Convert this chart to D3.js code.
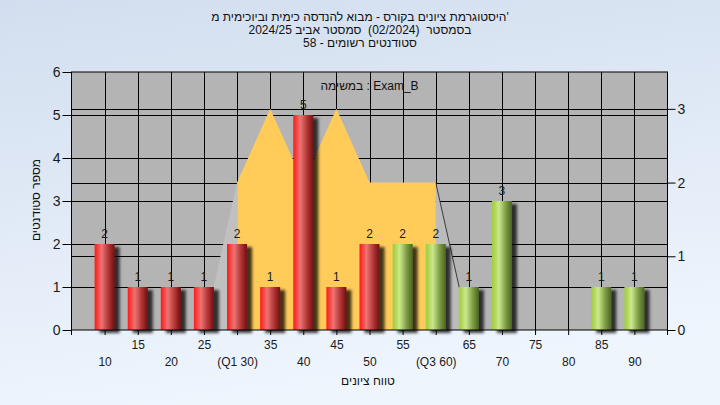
<!DOCTYPE html>
<html><head><meta charset="utf-8">
<script src="https://cdn.jsdelivr.net/npm/d3@7"></script>
<style>
html,body{margin:0;padding:0;}
svg{display:block;font-family:"Liberation Sans",Arial,sans-serif;}
text{white-space:pre;}
</style></head>
<body>
<svg id="c" width="720" height="405"></svg>
<script>
// ---- data ----
const categories = [10,15,20,25,30,35,40,45,50,55,60,65,70,75,80,85,90];
const counts     = [2,1,1,1,2,1,5,1,2,2,2,1,3,0,0,1,1];
const tickLabels = ["10","15","20","25","(Q1 30)","35","40","45","50","55","(Q3 60)","65","70","75","80","85","90"];
const areaX      = [25,30,35,40,45,50,55,60,65];
const areaValues = [0,2,3,2,3,2,2,2,0];
const leftTicks  = [0,1,2,3,4,5,6];
const rightTicks = [0,1,2,3];
const titleLines = ["היסטוגרמת ציונים בקורס - מבוא להנדסה כימית וביוכימית מ'",
                    "בסמסטר  (02/2024)  סמסטר אביב 2024/25",
                    "סטודנטים רשומים - 58"];
const legendText = "במשימה : Exam_B";
const yTitle = "מספר סטודנטים";
const xTitle = "טווח ציונים";
const q1 = 30, q3 = 60, passFrom = 55;

const svg = d3.select("#c");
const L = 71.5, R = 667.5, T = 72, B = 330;
const x = d3.scaleLinear().domain([5,95]).range([L,R]);
const yL = d3.scaleLinear().domain([0,6]).range([B,T]);
const yR = d3.scaleLinear().domain([0,3.5]).range([B,T]);

const defs = svg.append("defs");
const bg = defs.append("linearGradient").attr("id","bg").attr("x1",0).attr("y1",0).attr("x2",0.25).attr("y2",1);
bg.append("stop").attr("offset",0).attr("stop-color","#d2deef");
bg.append("stop").attr("offset",1).attr("stop-color","#eef5fd");
function grad(id, stops){
  const g = defs.append("linearGradient").attr("id",id).attr("x1",0).attr("x2",1).attr("y1",0).attr("y2",0);
  stops.forEach(s=>g.append("stop").attr("offset",s[0]).attr("stop-color",s[1]));
}
grad("red",[[0,"#ff1a1a"],[0.12,"#f83838"],[0.35,"#ec7474"],[0.7,"#b03434"],[1,"#6e1010"]]);
grad("green",[[0,"#a2cd42"],[0.12,"#acd452"],[0.35,"#cbe88e"],[0.7,"#7d9c44"],[1,"#4a6421"]]);
const f = defs.append("filter").attr("id","sh").attr("x","-20%").attr("y","-20%").attr("width","160%").attr("height","140%");
f.append("feGaussianBlur").attr("in","SourceAlpha").attr("stdDeviation",1.8).attr("result","b");
f.append("feOffset").attr("in","b").attr("dx",5).attr("dy",3).attr("result","o");
f.append("feComponentTransfer").attr("in","o").attr("result","o2").append("feFuncA").attr("type","linear").attr("slope",0.75);
const m = f.append("feMerge"); m.append("feMergeNode").attr("in","o2"); m.append("feMergeNode").attr("in","SourceGraphic");

svg.append("rect").attr("width",720).attr("height",405).attr("fill","url(#bg)");

// titles
svg.append("g").selectAll("text").data(titleLines).join("text")
  .attr("x",360).attr("y",(d,i)=>21+i*12.8).attr("text-anchor","middle")
  .attr("direction","ltr").attr("font-size",12).attr("fill","#111").text(d=>d);

// plot background
svg.append("rect").attr("x",L).attr("y",T).attr("width",R-L).attr("height",B-T).attr("fill","#b4b4b4");

// gridlines
const grid = svg.append("g").attr("stroke","#000").attr("stroke-width",1);
grid.selectAll("line.h").data(leftTicks.slice(1,-1)).join("line")
  .attr("x1",L).attr("x2",R).attr("y1",d=>Math.round(yL(d))+0.5).attr("y2",d=>Math.round(yL(d))+0.5);
grid.selectAll("line.r").data(rightTicks.slice(1)).join("line")
  .attr("x1",L).attr("x2",R).attr("y1",d=>Math.round(yR(d))+0.5).attr("y2",d=>Math.round(yR(d))+0.5);
grid.selectAll("line.v").data(categories).join("line")
  .attr("y1",T).attr("y2",B).attr("x1",d=>Math.round(x(d))+0.5).attr("x2",d=>Math.round(x(d))+0.5);

// area (right axis) — IQR segments yellow, outer segments light
const pts = areaX.map((v,i)=>({x:v,y:areaValues[i]}));
const area = d3.area().x(d=>x(d.x)).y0(B).y1(d=>yR(d.y));
const inside = pts.filter(d=>d.x>=q1 && d.x<=q3);
const leftSeg = pts.filter(d=>d.x<=q1);
const rightSeg = pts.filter(d=>d.x>=q3);
svg.append("path").datum(leftSeg).attr("d",area).attr("fill","#c0c0c0");
svg.append("path").datum(rightSeg).attr("d",area).attr("fill","#bcbcbc");
svg.append("path").datum(rightSeg).attr("d",d3.line().x(d=>x(d.x)).y(d=>yR(d.y))).attr("fill","none").attr("stroke","#3a3a3a").attr("stroke-width",1);
svg.append("path").datum(inside).attr("d",area).attr("fill","#ffcc5a");

// legend text
svg.append("text").attr("x",(L+R)/2).attr("y",90).attr("text-anchor","middle")
  .attr("direction","ltr").attr("font-size",12).attr("fill","#111").text(legendText);

// bars
const bw = 20;
const bars = categories.map((c,i)=>({c,v:counts[i]})).filter(d=>d.v>0);
svg.append("g").selectAll("rect").data(bars).join("rect")
  .attr("x",d=>x(d.c)-bw/2).attr("width",bw)
  .attr("y",d=>yL(d.v)).attr("height",d=>B-yL(d.v))
  .attr("fill",d=>d.c>=passFrom?"url(#green)":"url(#red)")
  .attr("filter","url(#sh)");
svg.append("g").selectAll("text").data(bars).join("text")
  .attr("x",d=>x(d.c)).attr("y",d=>yL(d.v)-6).attr("text-anchor","middle")
  .attr("font-size",12).attr("fill","#1a1a1a").text(d=>d.v);

// plot border
svg.append("rect").attr("x",L).attr("y",T).attr("width",R-L).attr("height",B-T)
  .attr("fill","none").attr("stroke","#000");

// axes
const fmt = d3.format("d");
const axL = svg.append("g").attr("transform",`translate(${L},0)`)
  .call(d3.axisLeft(yL).tickValues(leftTicks).tickFormat(fmt).tickSize(9).tickPadding(2).tickSizeOuter(0));
const axR = svg.append("g").attr("transform",`translate(${R},0)`)
  .call(d3.axisRight(yR).tickValues(rightTicks).tickFormat(fmt).tickSize(8).tickPadding(2).tickSizeOuter(0));
const axB = svg.append("g").attr("transform",`translate(0,${B})`)
  .call(d3.axisBottom(x).tickValues(categories).tickFormat((d,i)=>tickLabels[i]).tickSize(5).tickSizeOuter(0));
axB.selectAll(".tick text").attr("y",(d,i)=>i%2===1?19:36).attr("dy",0).attr("direction","ltr");
[axL,axR,axB].forEach(a=>{
  a.select(".domain").remove();
  a.selectAll("text").attr("font-size",12).attr("fill","#1a1a1a").attr("font-family","Liberation Sans, Arial, sans-serif");
  a.selectAll("line").attr("stroke","#000");
});
axL.selectAll(".tick text").attr("font-size",14);
axR.selectAll(".tick text").attr("font-size",14);
// end ticks at plot edges
svg.append("line").attr("x1",L).attr("x2",L).attr("y1",B).attr("y2",B+5).attr("stroke","#000");
svg.append("line").attr("x1",R).attr("x2",R).attr("y1",B).attr("y2",B+5).attr("stroke","#000");

// axis titles
svg.append("text").attr("transform","translate(40,200) rotate(-90)").attr("text-anchor","middle")
  .attr("direction","ltr").attr("font-size",12).attr("fill","#111").text(yTitle);
svg.append("text").attr("x",368).attr("y",385).attr("text-anchor","middle")
  .attr("direction","ltr").attr("font-size",12).attr("fill","#111").text(xTitle);
</script>
</body></html>
